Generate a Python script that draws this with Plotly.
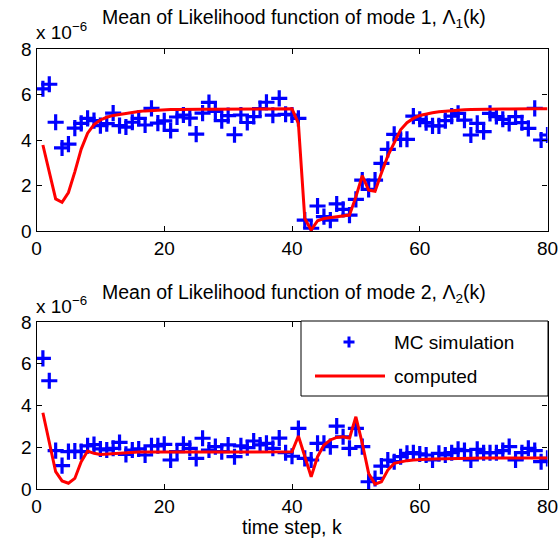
import plotly.graph_objects as go

k = list(range(1, 81))

# values in units of 1e-6
mc_mode1 = [6.25, 6.45, 4.78, 3.65, 3.82, 4.52, 4.73, 4.95, 4.85, 4.63,
            4.72, 5.18, 4.63, 4.57, 4.78, 4.95, 4.66, 5.39, 4.74, 4.84,
            4.42, 5.01, 5.10, 4.96, 4.26, 5.18, 5.65, 5.26, 4.85, 5.07,
            4.23, 5.10, 4.77, 5.03, 5.38, 5.66, 5.09, 5.83, 5.13, 5.10,
            4.95, 0.48, 0.12, 1.10, 0.63, 0.48, 1.19, 0.95, 0.70, 1.39,
            2.24, 1.83, 2.24, 2.97, 3.59, 4.25, 4.03, 4.03, 5.05, 4.91,
            4.76, 4.62, 4.62, 4.85, 5.05, 5.17, 4.87, 4.22, 4.73, 4.37,
            5.17, 5.03, 4.91, 4.73, 5.03, 4.76, 4.51, 5.39, 4.00, 4.22]

comp_mode1 = [3.78, 2.60, 1.41, 1.26, 1.69, 2.60, 3.60, 4.30, 4.68, 4.88,
              5.00, 5.08, 5.13, 5.17, 5.21, 5.25, 5.28, 5.30, 5.32, 5.33,
              5.34, 5.34, 5.35, 5.35, 5.35, 5.35, 5.35, 5.35, 5.35, 5.35,
              5.35, 5.35, 5.35, 5.35, 5.35, 5.35, 5.35, 5.35, 5.36, 5.37,
              4.73, 0.55, 0.04, 0.45, 0.55, 0.58, 0.62, 0.66, 0.70, 1.50,
              2.43, 1.80, 1.75, 2.55, 3.30, 3.87, 4.45, 4.76, 4.95, 5.08,
              5.15, 5.20, 5.24, 5.27, 5.30, 5.32, 5.33, 5.34, 5.35, 5.35,
              5.36, 5.36, 5.36, 5.36, 5.37, 5.37, 5.37, 5.37, 5.37, 5.37]

mc_mode2 = [6.26, 5.19, 1.85, 1.13, 1.80, 1.83, 1.80, 2.08, 2.14, 1.93,
            1.88, 1.96, 2.24, 1.67, 1.88, 1.93, 1.64, 2.08, 2.08, 2.15,
            1.40, 1.80, 2.15, 1.96, 1.48, 2.44, 1.88, 2.04, 1.80, 2.12,
            1.56, 2.08, 1.99, 2.31, 2.12, 2.20, 1.96, 2.45, 1.75, 1.58,
            2.91, 1.48, 1.40, 2.20, 2.20, 2.04, 3.02, 2.51, 1.96, 2.91,
            2.04, 0.36, 0.52, 1.11, 1.40, 1.32, 1.56, 1.72, 1.75, 1.69,
            1.64, 1.40, 1.72, 1.64, 1.75, 1.91, 1.85, 1.40, 1.91, 1.75,
            1.75, 1.75, 1.85, 2.04, 1.40, 1.75, 1.96, 1.85, 1.32, 1.48]

comp_mode2 = [3.66, 2.28, 0.84, 0.40, 0.29, 0.52, 1.32, 1.83, 1.72, 1.66,
              1.68, 1.72, 1.75, 1.77, 1.77, 1.78, 1.78, 1.78, 1.78, 1.78,
              1.78, 1.78, 1.78, 1.78, 1.78, 1.78, 1.78, 1.78, 1.78, 1.78,
              1.78, 1.78, 1.78, 1.78, 1.78, 1.78, 1.78, 1.78, 1.78, 1.79,
              2.55, 1.60, 0.60, 1.56, 2.12, 2.36, 2.48, 2.51, 2.44, 3.47,
              2.20, 0.76, 0.25, 0.36, 0.92, 1.24, 1.32, 1.37, 1.40, 1.43,
              1.44, 1.45, 1.46, 1.47, 1.48, 1.48, 1.49, 1.49, 1.50, 1.50,
              1.50, 1.50, 1.50, 1.50, 1.50, 1.50, 1.50, 1.50, 1.50, 1.50]

x_ticks = [0, 20, 40, 60, 80]
y_ticks = [0, 2, 4, 6, 8]
legend_labels = ["MC simulation", "computed"]

FONT = "Arial, Liberation Sans, Helvetica, sans-serif"
BLUE = "#0000FF"
RED = "#FF0000"
W, H = 559, 542
FS = 19

fig = go.Figure()

def add_pair(mc, comp, xa, ya):
    fig.add_trace(go.Scatter(
        x=k, y=mc, mode="markers", name=legend_labels[0], showlegend=False,
        xaxis=xa, yaxis=ya,
        marker=dict(symbol="cross-thin", size=11.5, color=BLUE,
                    line=dict(width=3.2, color=BLUE))))
    fig.add_trace(go.Scatter(
        x=k, y=comp, mode="lines", name=legend_labels[1], showlegend=False,
        xaxis=xa, yaxis=ya,
        line=dict(color=RED, width=3)))

add_pair(mc_mode1, comp_mode1, "x", "y")
add_pair(mc_mode2, comp_mode2, "x2", "y2")

def px(xp):
    return xp / W

def py(yp):
    return 1 - yp / H

xdom = [px(36.5), px(547.5)]
top_dom = [py(231), py(49)]
bot_dom = [py(489.3), py(322)]

axis_common = dict(
    showline=True, linecolor="black", linewidth=1.3, mirror="ticks",
    ticks="inside", ticklen=5, tickcolor="black", tickwidth=1,
    showgrid=False, zeroline=False,
    tickfont=dict(family=FONT, size=FS, color="black"),
)

fig.update_layout(
    width=W, height=H,
    margin=dict(l=0, r=0, t=0, b=0, autoexpand=False),
    paper_bgcolor="white", plot_bgcolor="white",
    font=dict(family=FONT, size=FS, color="black"),
    xaxis=dict(domain=xdom, range=[0, 80], tickvals=x_ticks, anchor="y", **axis_common),
    yaxis=dict(domain=top_dom, range=[0, 8], tickvals=y_ticks, anchor="x", **axis_common),
    xaxis2=dict(domain=xdom, range=[0, 80], tickvals=x_ticks, anchor="y2", **axis_common),
    yaxis2=dict(domain=bot_dom, range=[0, 8], tickvals=y_ticks, anchor="x2", **axis_common),
    showlegend=False,
)

# custom legend box (bottom panel)
fig.add_shape(type="rect", xref="paper", yref="paper",
              x0=px(301), x1=px(548), y0=py(396), y1=py(321),
              line=dict(color="black", width=1), fillcolor="white", layer="above")
mx, my = 349, 342
fig.add_shape(type="path", xref="paper", yref="paper",
              path=f"M {px(mx-5.5)} {py(my)} L {px(mx+5.5)} {py(my)} M {px(mx)} {py(my-5.5)} L {px(mx)} {py(my+5.5)}",
              line=dict(color=BLUE, width=3), layer="above")
fig.add_shape(type="line", xref="paper", yref="paper",
              x0=px(315), x1=px(385), y0=py(376), y1=py(376),
              line=dict(color=RED, width=3), layer="above")
for lab, yy in zip(legend_labels, [342, 376]):
    fig.add_annotation(xref="paper", yref="paper", x=px(392), y=py(yy),
                       xanchor="left", yanchor="middle", showarrow=False, text=lab,
                       font=dict(family=FONT, size=FS, color="black"))

annots = [
    dict(text="Mean of Likelihood function of mode 1, Λ<sub>1</sub>(k)", x=px(294), y=py(19)),
    dict(text="Mean of Likelihood function of mode 2, Λ<sub>2</sub>(k)", x=px(294), y=py(293)),
    dict(text="time step, k", x=px(292), y=py(527)),
]
for a in annots:
    fig.add_annotation(xref="paper", yref="paper", xanchor="center", yanchor="middle",
                       showarrow=False, font=dict(family=FONT, size=19.5, color="black"), **a)

for yy in [31, 305]:
    fig.add_annotation(xref="paper", yref="paper", x=px(34), y=py(yy),
                       xanchor="left", yanchor="middle", showarrow=False,
                       text="x 10<sup>−6</sup>",
                       font=dict(family=FONT, size=FS, color="black"))

fig.write_html("out.html",
               config={"displayModeBar": False},
               post_script="document.body.style.margin='0';document.body.style.overflow='hidden';")
